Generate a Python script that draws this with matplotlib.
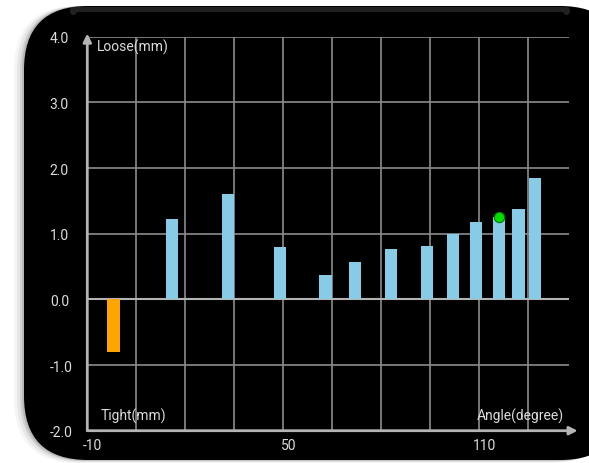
import matplotlib
matplotlib.use('Agg')
import matplotlib.pyplot as plt
from matplotlib.patches import FancyBboxPatch
from matplotlib.ticker import MultipleLocator, FuncFormatter, NullFormatter

# angle (degree) of each measurement and the looseness (mm)
angles = [-2, 16, 33, 49, 63, 72, 83, 94, 102, 109, 116, 122, 127]
looseness = [-0.80, 1.23, 1.60, 0.79, 0.37, 0.57, 0.77, 0.82, 1.00, 1.18, 1.26, 1.37, 1.85]
current_angle = [116]
current_value = [1.25]
labelled_angles = [-10, 50, 110]

plt.rcParams['font.family'] = ['Roboto', 'DejaVu Sans']
txt_color = '#dcdcdc'
fsize = 10

fig = plt.figure(figsize=(5.89, 4.64), dpi=100)
fig.patch.set_facecolor('white')

# background card (pixel coordinates)
bg = fig.add_axes([0, 0, 1, 1], zorder=0)
bg.set_xlim(0, 589)
bg.set_ylim(464, 0)
bg.axis('off')
for off, a in [(10, 0.04), (7, 0.06), (4, 0.09), (2, 0.12)]:
    bg.add_patch(FancyBboxPatch((24 - off, 7), 600, 454 + off * 0.3,
                                boxstyle="round,pad=0,rounding_size=64",
                                fc='black', ec='none', alpha=a))
bg.add_patch(FancyBboxPatch((24, 7), 600, 454, boxstyle="round,pad=0,rounding_size=64",
                            fc='black', ec='none'))
# glossy rim at the top
bg.add_patch(FancyBboxPatch((70, 8), 500, 8, boxstyle="round,pad=0,rounding_size=4",
                            fc='#404040', ec='none', alpha=0.5))
bg.add_patch(FancyBboxPatch((75, 13), 490, 8, boxstyle="round,pad=0,rounding_size=4",
                            fc='black', ec='none'))

ax = fig.add_axes([87.3 / 589, 1 - 431.7 / 464, (569 - 87.3) / 589, (431.7 - 37.7) / 464], zorder=1)
ax.set_facecolor('none')
ax.set_xlim(-10, 137.5)
ax.set_ylim(-2, 4)

ax.xaxis.set_major_locator(MultipleLocator(15, offset=5))
ax.yaxis.set_major_locator(MultipleLocator(1))
ax.xaxis.set_major_formatter(NullFormatter())
ax.yaxis.set_major_formatter(FuncFormatter(lambda v, p: f"{v:.1f}"))
ax.tick_params(length=0, colors=txt_color, labelsize=fsize)
ax.tick_params(axis='y', pad=27)
for lbl in ax.get_yticklabels():
    lbl.set_horizontalalignment('left')
ax.grid(True, color='#8c8c8c', linewidth=1.2)
ax.set_axisbelow(True)
for s in ax.spines.values():
    s.set_visible(False)

# x labels, a bit right of their gridline as in the app
for a in labelled_angles:
    ax.annotate(f"{a}", xy=(a, -2), xytext=(4, -5), textcoords='offset points',
                ha='center', va='top', color=txt_color, fontsize=fsize, annotation_clip=False)

# axis arrows
ax.annotate('', xy=(1.018, 0), xytext=(0, 0), xycoords='axes fraction',
            arrowprops=dict(arrowstyle='-|>', color='#b4b4b4', lw=2, mutation_scale=12,
                            shrinkA=0, shrinkB=0), annotation_clip=False)
ax.annotate('', xy=(0, 1.008), xytext=(0, 0), xycoords='axes fraction',
            arrowprops=dict(arrowstyle='-|>', color='#b4b4b4', lw=2, mutation_scale=12,
                            shrinkA=0, shrinkB=0), annotation_clip=False)
ax.axhline(0, color='#b4b4b4', lw=1.5, zorder=1)

bar_colors = ['#ffa500' if v < 0 else '#87cbe6' for v in looseness]
ax.bar(angles, looseness, width=3.8, color=bar_colors, zorder=2)
ax.scatter(current_angle, current_value, s=55, color='#00e000', edgecolors='#007a00',
           linewidths=0.8, zorder=3)

ax.text(-7.1, 3.85, 'Loose(mm)', color=txt_color, fontsize=fsize, va='center', ha='left')
ax.text(-5.8, -1.77, 'Tight(mm)', color=txt_color, fontsize=fsize, va='center', ha='left')
ax.text(135.9, -1.77, 'Angle(degree)', color=txt_color, fontsize=fsize, va='center', ha='right')

fig.savefig('out.png', dpi=100, facecolor='white')
